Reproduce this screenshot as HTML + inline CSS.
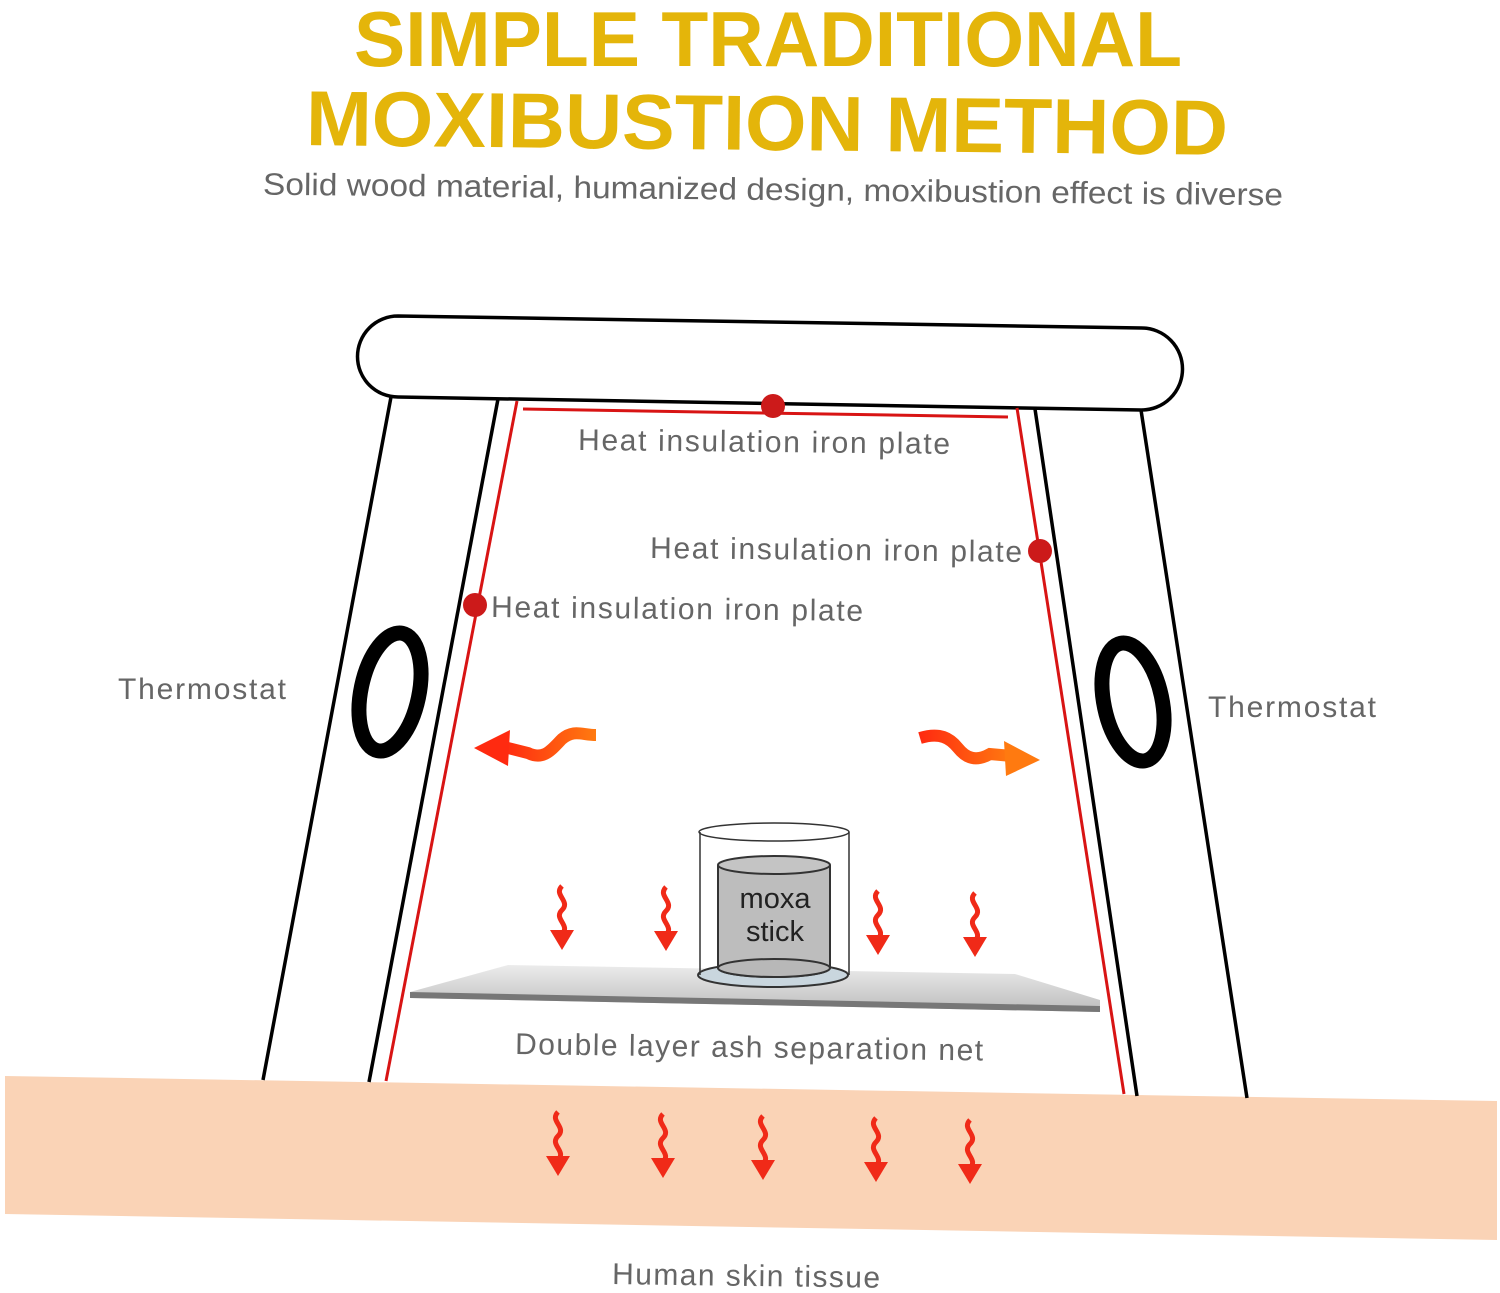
<!DOCTYPE html>
<html><head><meta charset="utf-8"><style>
html,body{margin:0;padding:0;background:#fff;}
svg{display:block}
text{font-family:"Liberation Sans","DejaVu Sans",sans-serif;}
</style></head><body>
<svg width="1500" height="1293" viewBox="0 0 1500 1293" xmlns="http://www.w3.org/2000/svg">
<defs>
<linearGradient id="g1" x1="0" x2="1"><stop offset="0" stop-color="#ff2a10"/><stop offset="1" stop-color="#ff7a10"/></linearGradient>
<linearGradient id="net" x1="0" y1="0" x2="0" y2="1"><stop offset="0" stop-color="#ececec"/><stop offset="1" stop-color="#bdbdbd"/></linearGradient>
<g id="wa"><path d="M0,-2 c-9,9 9,15 0,24 c-9,9 9,15 0,24" fill="none" stroke="#f02a18" stroke-width="5"/><polygon points="-12,42 12,42 0,62" fill="#f02a18"/></g>
</defs>
<g fill="#e4b50a" font-weight="bold" text-anchor="middle" font-size="78">
<text x="768" y="66" textLength="828" lengthAdjust="spacingAndGlyphs">SIMPLE TRADITIONAL</text>
<text x="767" y="150" textLength="922" lengthAdjust="spacingAndGlyphs" transform="rotate(0.6 767 120)">MOXIBUSTION METHOD</text>
</g>
<text x="773" y="200" font-size="31" fill="#666" text-anchor="middle" textLength="1020" lengthAdjust="spacingAndGlyphs" transform="rotate(0.6 773 190)">Solid wood material, humanized design, moxibustion effect is diverse</text>

<polygon points="5,1076 1497,1101 1497,1240 5,1214" fill="#fad3b6"/>

<g stroke="#000" stroke-width="3.5" fill="none">
<path d="M398,316 L1142,328 A41,41 0 0 1 1141,410 L398,397 A40.5,40.5 0 0 1 398,316 Z" fill="#fff"/>
<line x1="391" y1="397" x2="263" y2="1080"/>
<line x1="498" y1="399" x2="369" y2="1082"/>
<line x1="1035" y1="409" x2="1137" y2="1096"/>
<line x1="1141" y1="410" x2="1247" y2="1098"/>
</g>
<g stroke="#d81414" stroke-width="3" fill="none">
<line x1="517" y1="401" x2="386" y2="1081"/>
<line x1="1017" y1="408" x2="1124" y2="1094"/>
<line x1="523" y1="409" x2="1008" y2="417"/>
</g>
<g fill="#cc1a1a"><circle cx="773" cy="406" r="12"/><circle cx="1040" cy="551" r="12"/><circle cx="475" cy="605" r="12"/></g>

<ellipse cx="390" cy="692" rx="29" ry="60" fill="none" stroke="#000" stroke-width="15" transform="rotate(12 390 692)"/>
<ellipse cx="1133" cy="702" rx="29" ry="60" fill="none" stroke="#000" stroke-width="15" transform="rotate(-12 1133 702)"/>

<g font-size="30" fill="#666" lengthAdjust="spacingAndGlyphs">
<text x="578" y="450" textLength="372" transform="rotate(0.6 578 450)">Heat insulation iron plate</text>
<text x="650" y="558" textLength="372" transform="rotate(0.6 650 558)">Heat insulation iron plate</text>
<text x="491" y="617" textLength="372" transform="rotate(0.6 491 617)">Heat insulation iron plate</text>
<text x="118" y="699" textLength="168">Thermostat</text>
<text x="1208" y="717" textLength="168">Thermostat</text>
<text x="515" y="1054" textLength="468" transform="rotate(0.8 515 1054)">Double layer ash separation net</text>
<text x="612" y="1284" textLength="268" transform="rotate(0.8 612 1284)">Human skin tissue</text>
</g>

<path d="M596,735 c-14,0 -22,-6 -34,4 c-10,10 -18,22 -34,14 l-24,-6" fill="none" stroke="url(#g1)" stroke-width="12"/>
<polygon points="474,748 510,730 508,766" fill="#ff2a10"/>
<path d="M920,738 c20,-6 30,0 38,10 c8,10 18,14 32,6 l22,2" fill="none" stroke="url(#g1)" stroke-width="12"/>
<polygon points="1040,760 1004,741 1006,776" fill="#ff7a10"/>

<polygon points="410,992 508,965 1015,974 1100,1000 1100,1012 410,998" fill="url(#net)"/>
<polygon points="410,992 1100,1006 1100,1012 410,998" fill="#777"/>

<g stroke="#333" stroke-width="2">
<ellipse cx="773" cy="975" rx="75" ry="12" fill="#c9d6de"/>
<path d="M718,865 L718,968 A56,9 0 0 0 830,968 L830,865" fill="#bdbdbd"/>
<ellipse cx="774" cy="865" rx="56" ry="9" fill="#c4c4c4"/>
<ellipse cx="774" cy="968" rx="56" ry="9" fill="#b8b8b8"/>
<line x1="700" y1="832" x2="700" y2="975" fill="none" stroke-width="1.5"/>
<line x1="849" y1="832" x2="849" y2="975" fill="none" stroke-width="1.5"/>
<ellipse cx="774" cy="832" rx="75" ry="9" fill="none" stroke-width="1.5"/>
</g>
<text x="775" y="908" font-size="29" fill="#222" text-anchor="middle">moxa</text>
<text x="775" y="941" font-size="29" fill="#222" text-anchor="middle">stick</text>

<use href="#wa" x="562" y="888"/>
<use href="#wa" x="666" y="889"/>
<use href="#wa" x="878" y="893"/>
<use href="#wa" x="975" y="895"/>
<use href="#wa" x="558" y="1114"/>
<use href="#wa" x="663" y="1116"/>
<use href="#wa" x="763" y="1118"/>
<use href="#wa" x="876" y="1120"/>
<use href="#wa" x="970" y="1122"/>
</svg>
</body></html>
